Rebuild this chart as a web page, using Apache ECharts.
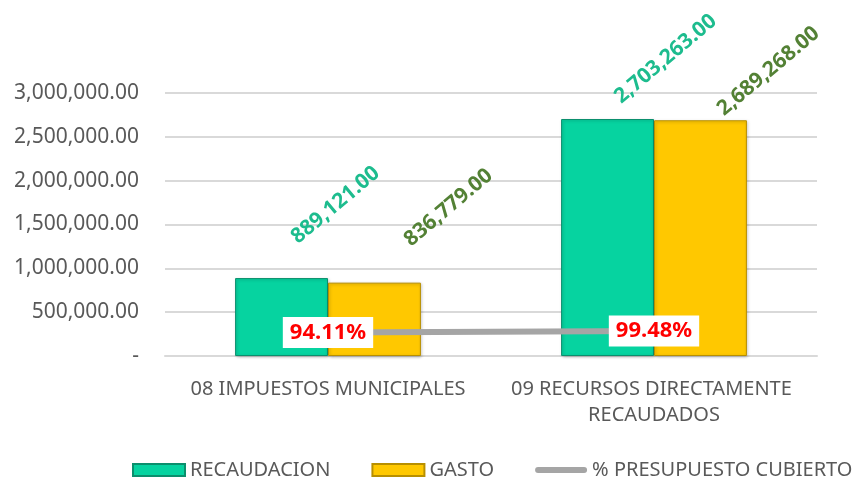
<!DOCTYPE html>
<html>
<head>
<meta charset="utf-8">
<script src="https://cdn.jsdelivr.net/npm/echarts@6/dist/echarts.min.js"></script>
<style>
  html, body { margin: 0; padding: 0; background: #fff; }
  #chart { width: 867px; height: 479px; }
</style>
</head>
<body>
<div id="chart"></div>
<script>
  // datos
  const categorias = ['08 IMPUESTOS MUNICIPALES', '09 RECURSOS DIRECTAMENTE RECAUDADOS'];
  const recaudacion = [889121, 2703263];
  const gasto = [836779, 2689268];
  const presupuestoCubierto = [0.9411, 0.9948];

  // desplazamiento manual de etiquetas en pantalla (como en el original)
  const offsetRecaudacion = [[54, -73], [58, -60]];
  const offsetGasto = [[74, -75], [68, -49]];

  const FONT = 'Noto Sans';
  const ROT = 40;

  function fmtNum(v) {
    if (v === 0) return '-';
    return v.toLocaleString('en-US', { minimumFractionDigits: 2, maximumFractionDigits: 2 });
  }

  // el offset de la etiqueta se aplica en el marco rotado, se convierte aqui
  function aMarcoRotado(o) {
    const a = ROT * Math.PI / 180;
    const c = Math.cos(a), s = Math.sin(a);
    return [o[0] * c - o[1] * s, o[0] * s + o[1] * c];
  }

  function conOffset(values, offsets) {
    return values.map((v, i) => ({ value: v, label: { offset: aMarcoRotado(offsets[i]) } }));
  }

  const iconoLinea = 'path://M3,3h46a3,3 0 0 1 0,6h-46a3,3 0 0 1 0,-6z M0,0h0.1v0.1h-0.1z M0,11.9h0.1v0.1h-0.1z';

  const chart = echarts.init(document.getElementById('chart'));

  const options = {
    animation: false,
    textStyle: { fontFamily: FONT },
    grid: {
      left: 165,
      right: 50,
      top: 93,
      bottom: 123
    },
    legend: {
      top: 455,
      left: 127,
      itemGap: 41,
      itemWidth: 52,
      itemHeight: 12,
      textStyle: {
        color: '#595959',
        fontSize: 20,
        fontFamily: FONT
      },
      data: [
        { name: 'RECAUDACION', icon: 'rect' },
        { name: 'GASTO', icon: 'rect' },
        {
          name: '% PRESUPUESTO CUBIERTO',
          icon: iconoLinea,
          itemStyle: { color: '#A5A5A5', opacity: 1, borderWidth: 0 }
        }
      ]
    },
    xAxis: [
      {
        type: 'category',
        data: categorias,
        axisLine: { lineStyle: { color: '#d9d9d9', width: 2 } },
        axisTick: { show: false },
        axisLabel: {
          color: '#595959',
          fontSize: 20,
          margin: 20,
          width: 320,
          overflow: 'break',
          lineHeight: 26,
          interval: 0
        }
      }
    ],
    yAxis: [
      {
        type: 'value',
        min: 0,
        max: 3000000,
        interval: 500000,
        axisLine: { show: false },
        axisTick: { show: false },
        splitLine: { lineStyle: { color: '#d9d9d9', width: 2 } },
        axisLabel: {
          color: '#595959',
          fontSize: 21,
          margin: 26,
          formatter: fmtNum
        }
      },
      {
        type: 'value',
        min: 0,
        max: 10.5,
        show: false,
        splitLine: { show: false }
      }
    ],
    series: [
      {
        name: 'RECAUDACION',
        type: 'bar',
        barGap: '0%',
        barCategoryGap: '43%',
        itemStyle: {
          color: '#06D3A0',
          borderColor: '#0B8F6D',
          borderWidth: 1,
          shadowColor: 'rgba(0,0,0,0.25)',
          shadowBlur: 3,
          shadowOffsetX: 1,
          shadowOffsetY: 1
        },
        label: {
          show: true,
          position: 'top',
          distance: 0,
          rotate: ROT,
          align: 'center',
          verticalAlign: 'middle',
          color: '#1DBC8E',
          fontSize: 21,
          fontWeight: 'bold',
          formatter: (p) => fmtNum(p.value)
        },
        data: conOffset(recaudacion, offsetRecaudacion)
      },
      {
        name: 'GASTO',
        type: 'bar',
        itemStyle: {
          color: '#FFC800',
          borderColor: '#B88F00',
          borderWidth: 1,
          shadowColor: 'rgba(0,0,0,0.25)',
          shadowBlur: 3,
          shadowOffsetX: 1,
          shadowOffsetY: 1
        },
        label: {
          show: true,
          position: 'top',
          distance: 0,
          rotate: ROT,
          align: 'center',
          verticalAlign: 'middle',
          color: '#538135',
          fontSize: 21,
          fontWeight: 'bold',
          formatter: (p) => fmtNum(p.value)
        },
        data: conOffset(gasto, offsetGasto)
      },
      {
        name: '% PRESUPUESTO CUBIERTO',
        type: 'line',
        yAxisIndex: 1,
        symbol: 'circle',
        symbolSize: 2,
        showSymbol: true,
        z: 5,
        lineStyle: { color: '#A5A5A5', width: 6 },
        itemStyle: { color: 'rgba(165,165,165,0)' },
        label: {
          show: true,
          position: 'inside',
          color: '#FF0000',
          fontSize: 22,
          fontWeight: 'bold',
          backgroundColor: '#ffffff',
          padding: [5, 7, 4, 7],
          formatter: (p) => (p.value * 100).toFixed(2) + '%'
        },
        data: presupuestoCubierto
      }
    ]
  };

  chart.setOption(options);
</script>
</body>
</html>
